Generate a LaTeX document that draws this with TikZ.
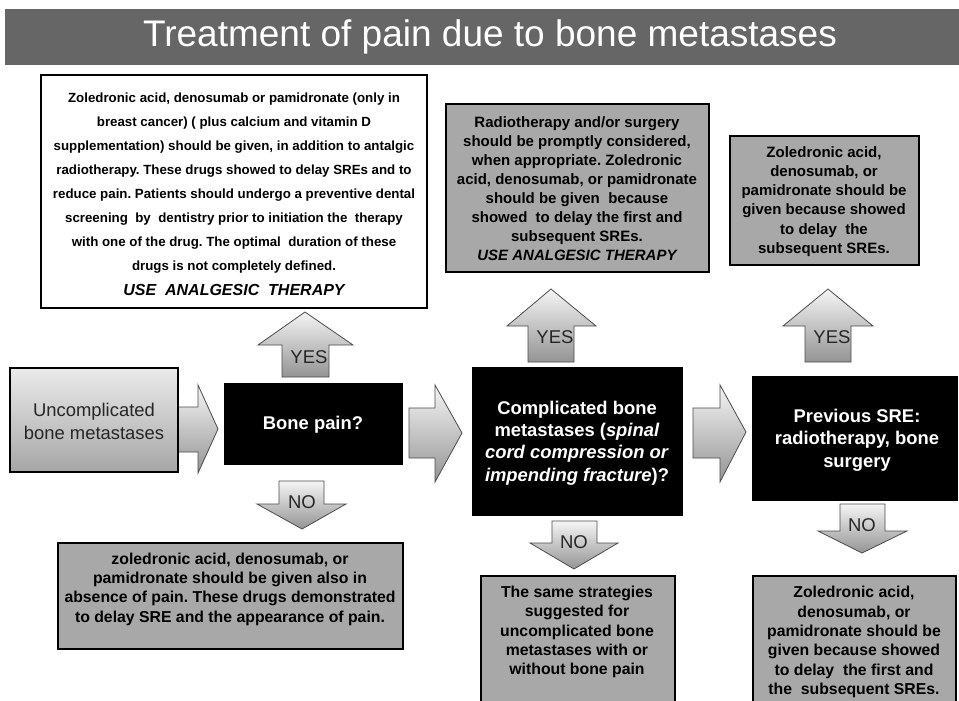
\documentclass[tikz,border=0pt]{standalone}
\usepackage{fontspec}
\setmainfont{Liberation Sans}
\frenchspacing
\begin{document}
\begin{tikzpicture}[x=1pt,y=-1pt,
  box/.style={rectangle, draw=black, line width=2.2pt, inner sep=0pt},
  whitebox/.style={box, fill=white},
  graybox/.style={box, fill=black!34},
  blackbox/.style={box, fill=black},
  gradbox/.style={box, top color=black!8, bottom color=black!35},
  txt/.style={align=center, inner sep=0pt, text=black},
  wtxt/.style={align=center, inner sep=0pt, text=white, font=\bfseries\fontsize{18.4}{22.3}\selectfont},
  blk/.style={top color=black!4, bottom color=black!42, draw=black!70, line width=0.8pt, line join=miter},
  lbl/.style={inner sep=0pt, font=\fontsize{18.5}{20}\selectfont, text=black!85}
]
\clip (0,0) rectangle (959,701);
\fill[white] (0,0) rectangle (959,701);
% header
\fill[black!60] (5,9) rectangle (959,65);
\node[inner sep=0pt, text=white, font=\fontsize{37}{40}\selectfont] (title) at (490,37) {Treatment of pain due to bone metastases};

% block arrows (connectors)
\shade[blk] (305,312) -- (353,345) -- (329,345) -- (329,377) -- (282,377) -- (282,345) -- (258,345) -- cycle;
\shade[blk] (551,289) -- (596,326) -- (574,326) -- (574,362) -- (528,362) -- (528,326) -- (507,326) -- cycle;
\shade[blk] (828,289) -- (873,326) -- (851,326) -- (851,362) -- (805,362) -- (805,326) -- (783,326) -- cycle;
\shade[blk] (302,529) -- (346,504) -- (324,504) -- (324,481) -- (279,481) -- (279,504) -- (257,504) -- cycle;
\shade[blk] (574,569) -- (618,543) -- (597,543) -- (597,521) -- (552,521) -- (552,543) -- (530,543) -- cycle;
\shade[blk] (862,553) -- (907,531) -- (885,531) -- (885,504) -- (840,504) -- (840,531) -- (818,531) -- cycle;
\shade[blk] (218,429) -- (198,385) -- (198,407) -- (176,407) -- (176,452) -- (198,452) -- (198,473) -- cycle;
\shade[blk] (462,433) -- (435,385) -- (435,408) -- (409,408) -- (409,458) -- (435,458) -- (435,482) -- cycle;
\shade[blk] (746,432) -- (720,385) -- (720,408) -- (693,408) -- (693,458) -- (720,458) -- (720,482) -- cycle;
\node[lbl] (yes1) at (309,357) {YES};
\node[lbl] (yes2) at (555,337) {YES};
\node[lbl] (yes3) at (832,337) {YES};
\node[lbl] (no1) at (302,502) {NO};
\node[lbl] (no2) at (574,542) {NO};
\node[lbl] (no3) at (862,525) {NO};

% boxes
\node[whitebox, minimum width=386, minimum height=233] (b1) at (234,191.5) {};
\node[graybox, minimum width=263, minimum height=168] (b2) at (577.5,188) {};
\node[graybox, minimum width=189, minimum height=129] (b3) at (824.5,200.5) {};
\node[gradbox, minimum width=168, minimum height=104] (unc) at (94,420) {};
\node[blackbox, minimum width=177, minimum height=80] (pain) at (313.5,424) {};
\node[blackbox, minimum width=209, minimum height=147] (comp) at (577.5,441.5) {};
\node[blackbox, minimum width=204, minimum height=123] (prev) at (855,438.5) {};
\node[graybox, minimum width=345, minimum height=106] (b4) at (230.5,596) {};
\node[graybox, minimum width=194, minimum height=160] (b5) at (578,656) {};
\node[graybox, minimum width=203, minimum height=160] (b6) at (854.5,656) {};

% texts
\node[txt, font=\bfseries\fontsize{13.3}{24}\selectfont] (b1t) at (234,194) {Zoledronic acid, denosumab or pamidronate (only in\\
breast cancer) ( plus calcium and vitamin D\\
supplementation) should be given, in addition to antalgic\\
radiotherapy. These drugs showed to delay SREs and to\\
reduce pain. Patients should undergo a preventive dental\\
screening~ by~ dentistry prior to initiation the~ therapy\\
with one of the drug. The optimal~ duration of these\\
drugs is not completely defined.\\[1pt]
{\fontsize{16}{24}\selectfont\itshape USE~ ANALGESIC~ THERAPY}};
\node[txt, font=\bfseries\fontsize{15}{19}\selectfont] (b2t) at (577,189) {Radiotherapy and/or surgery\\
should be promptly considered,\\
when appropriate. Zoledronic\\
acid, denosumab, or pamidronate\\
should be given~ because\\
showed~ to delay the first and\\
subsequent SREs.\\
\itshape USE ANALGESIC THERAPY};
\node[txt, font=\bfseries\fontsize{15}{19.2}\selectfont] (b3t) at (824,201.5) {Zoledronic acid,\\
denosumab, or\\
pamidronate should be\\
given because showed\\
to delay~ the\\
subsequent SREs.};
\node[txt, font=\fontsize{18.4}{23}\selectfont, text=black!85] (unct) at (94,421) {Uncomplicated\\bone metastases};
\node[wtxt] (paint) at (313,425) {Bone pain?};
\node[wtxt] (compt) at (577,443) {Complicated bone\\
metastases (\textit{spinal}\\
\textit{cord compression or}\\
\textit{impending fracture})?};
\node[wtxt] (prevt) at (857,440) {Previous SRE:\\
radiotherapy, bone\\
surgery};
\node[txt, font=\bfseries\fontsize{15.8}{19.3}\selectfont] (b4t) at (230,589) {zoledronic acid, denosumab, or\\
pamidronate should be given also in\\
absence of pain. These drugs demonstrated\\
to delay SRE and the appearance of pain.};
\node[txt, font=\bfseries\fontsize{15.8}{19.3}\selectfont] (b5t) at (577,632) {The same strategies\\
suggested for\\
uncomplicated bone\\
metastases with or\\
without bone pain};
\node[txt, font=\bfseries\fontsize{15.8}{19.3}\selectfont] (b6t) at (854,642) {Zoledronic acid,\\
denosumab, or\\
pamidronate should be\\
given because showed\\
to delay~ the first and\\
the~ subsequent SREs.};
\end{tikzpicture}
\end{document}
